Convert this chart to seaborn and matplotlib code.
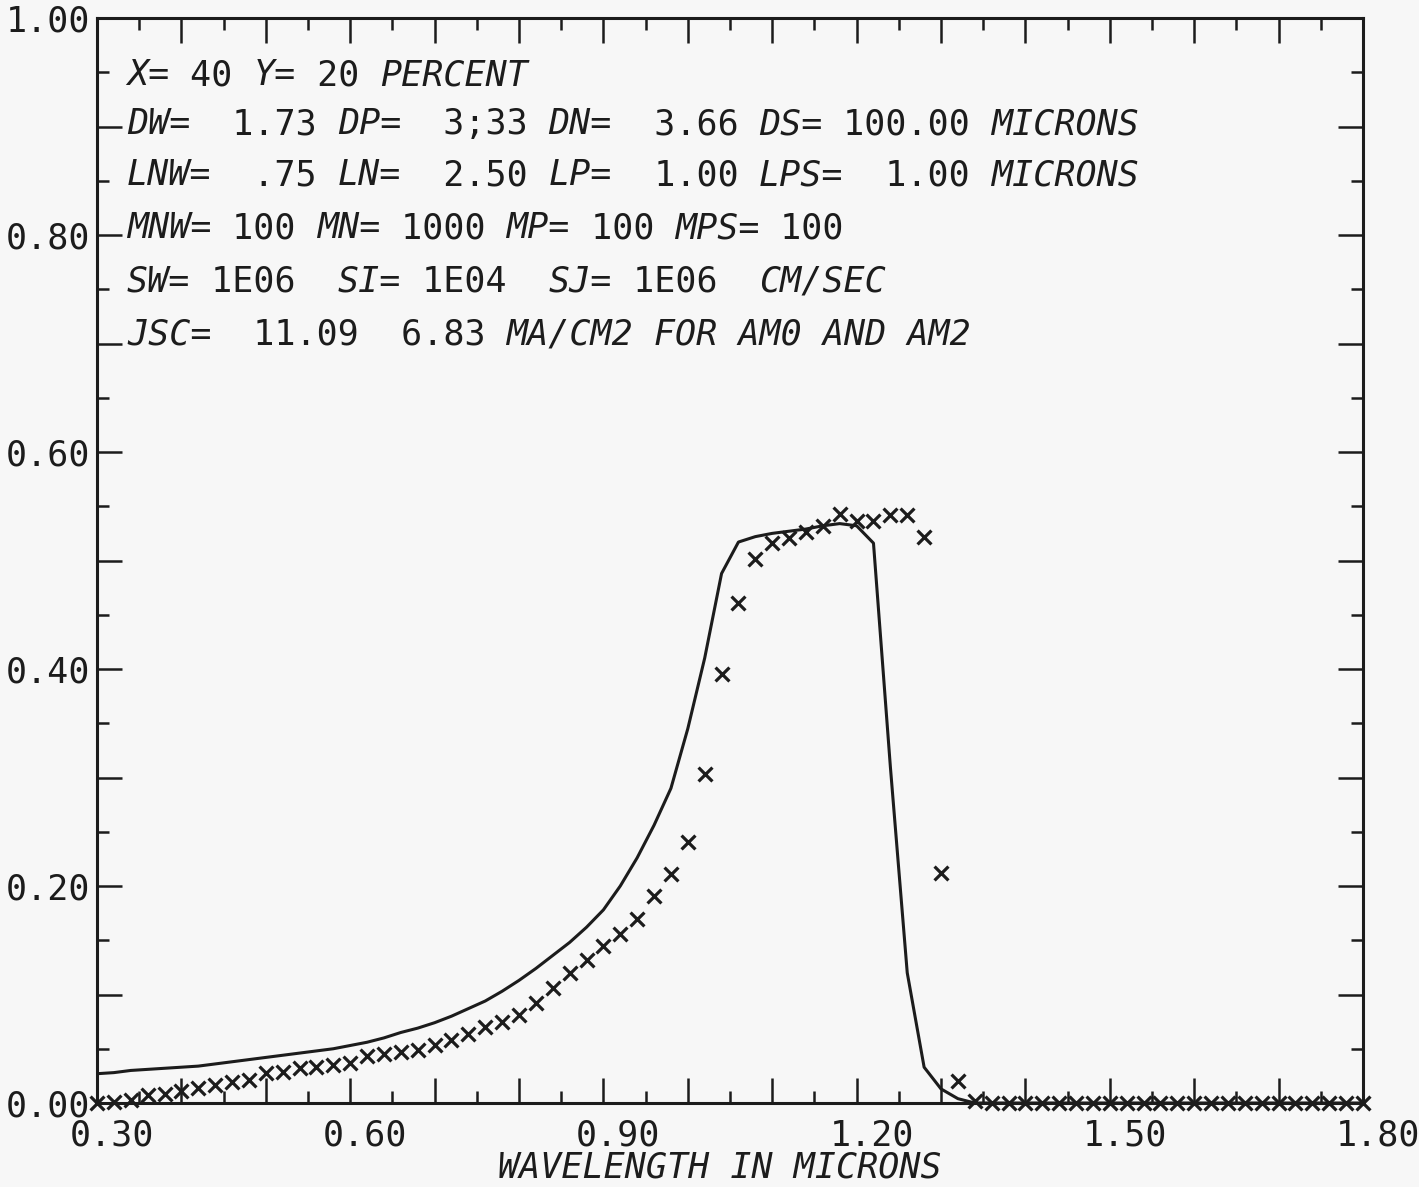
import numpy as np
import pandas as pd
import matplotlib
matplotlib.use("Agg")
import matplotlib.pyplot as plt
from matplotlib.ticker import FixedLocator, FuncFormatter
from matplotlib.transforms import ScaledTranslation
import seaborn as sns

# Wavelength grid (microns) shared by the computed curve and the measured points
wavelength = [
    0.30, 0.32, 0.34, 0.36, 0.38, 0.40, 0.42, 0.44, 0.46, 0.48,
    0.50, 0.52, 0.54, 0.56, 0.58, 0.60, 0.62, 0.64, 0.66, 0.68,
    0.70, 0.72, 0.74, 0.76, 0.78, 0.80, 0.82, 0.84, 0.86, 0.88,
    0.90, 0.92, 0.94, 0.96, 0.98, 1.00, 1.02, 1.04, 1.06, 1.08,
    1.10, 1.12, 1.14, 1.16, 1.18, 1.20, 1.22, 1.24, 1.26, 1.28,
    1.30, 1.32, 1.34, 1.36, 1.38, 1.40, 1.42, 1.44, 1.46, 1.48,
    1.50, 1.52, 1.54, 1.56, 1.58, 1.60, 1.62, 1.64, 1.66, 1.68,
    1.70, 1.72, 1.74, 1.76, 1.78, 1.80,
]

# Computed response (solid curve)
computed = [
    0.027, 0.028, 0.030, 0.031, 0.032, 0.033, 0.034, 0.036, 0.038, 0.040,
    0.042, 0.044, 0.046, 0.048, 0.050, 0.053, 0.056, 0.060, 0.065, 0.069,
    0.074, 0.080, 0.087, 0.094, 0.103, 0.113, 0.124, 0.136, 0.148, 0.162,
    0.178, 0.200, 0.226, 0.256, 0.290, 0.345, 0.410, 0.488, 0.517, 0.522,
    0.525, 0.527, 0.529, 0.532, 0.534, 0.532, 0.516, 0.310, 0.120, 0.033,
    0.013, 0.004, 0.000, 0.000, 0.000, 0.000, 0.000, 0.000, 0.000, 0.000,
    0.000, 0.000, 0.000, 0.000, 0.000, 0.000, 0.000, 0.000, 0.000, 0.000,
    0.000, 0.000, 0.000, 0.000, 0.000, 0.000,
]

# Second response (cross markers)
measured = [
    0.000, 0.001, 0.003, 0.007, 0.008, 0.011, 0.014, 0.017, 0.019, 0.021,
    0.028, 0.029, 0.032, 0.033, 0.035, 0.037, 0.043, 0.045, 0.047, 0.049,
    0.053, 0.058, 0.064, 0.070, 0.075, 0.081, 0.092, 0.106, 0.120, 0.132,
    0.145, 0.156, 0.170, 0.191, 0.211, 0.241, 0.303, 0.395, 0.461, 0.501,
    0.516, 0.521, 0.526, 0.532, 0.543, 0.536, 0.536, 0.542, 0.542, 0.522,
    0.212, 0.020, 0.002, 0.000, 0.000, 0.000, 0.000, 0.000, 0.000, 0.000,
    0.000, 0.000, 0.000, 0.000, 0.000, 0.000, 0.000, 0.000, 0.000, 0.000,
    0.000, 0.000, 0.000, 0.000, 0.000, 0.000,
]

x_major = [0.3, 0.4, 0.5, 0.6, 0.7, 0.8, 0.9, 1.0, 1.1, 1.2, 1.3, 1.4, 1.5, 1.6, 1.7, 1.8]
y_major = [0.0, 0.1, 0.2, 0.3, 0.4, 0.5, 0.6, 0.7, 0.8, 0.9, 1.0]

# Parameter block: each line is a list of (text, italic) pieces
info_lines = [
    [("X=", True), (" 40 ", False), ("Y=", True), (" 20 ", False), ("PERCENT", True)],
    [("DW=", True), ("  1.73 ", False), ("DP=", True), ("  3;33 ", False),
     ("DN=", True), ("  3.66 ", False), ("DS=", True), (" 100.00 ", False),
     ("MICRONS", True)],
    [("LNW=", True), ("  .75 ", False), ("LN=", True), ("  2.50 ", False),
     ("LP=", True), ("  1.00 ", False), ("LPS=", True), ("  1.00 ", False),
     ("MICRONS", True)],
    [("MNW=", True), (" 100 ", False), ("MN=", True), (" 1000 ", False),
     ("MP=", True), (" 100 ", False), ("MPS=", True), (" 100", False)],
    [("SW=", True), (" 1E06  ", False), ("SI=", True), (" 1E04  ", False),
     ("SJ=", True), (" 1E06  ", False), ("CM/SEC", True)],
    [("JSC=", True), ("  11.09  6.83 ", False), ("MA/CM2 FOR AM0 AND AM2", True)],
]
info_baselines = [0.938, 0.893, 0.846, 0.797, 0.748, 0.699]

INK = "#1c1c1c"
PAPER = "#f7f7f7"
FS = 25.2

sns.set_style("ticks")
plt.rcParams["font.family"] = ["DejaVu Sans Mono", "DejaVu Sans"]
plt.rcParams["text.color"] = INK
plt.rcParams["axes.edgecolor"] = INK
plt.rcParams["xtick.color"] = INK
plt.rcParams["ytick.color"] = INK

fig = plt.figure(figsize=(14.19, 11.87), dpi=100, facecolor=PAPER)
ax = fig.add_axes([97 / 1419, 1 - 1103 / 1187, 1266 / 1419, 1085 / 1187])
ax.set_facecolor(PAPER)

df = pd.DataFrame({"wavelength": wavelength, "computed": computed, "measured": measured})

sns.lineplot(data=df, x="wavelength", y="computed", ax=ax, color=INK,
             linewidth=2.2, estimator=None, sort=False)
sns.scatterplot(data=df, x="wavelength", y="measured", ax=ax, marker="x",
                s=100, linewidth=2.3, color=INK, clip_on=False, zorder=3)

ax.set_xlim(0.3, 1.8)
ax.set_ylim(0.0, 1.0)

ax.xaxis.set_major_locator(FixedLocator(x_major))
ax.xaxis.set_minor_locator(FixedLocator([v + 0.05 for v in x_major[:-1]]))
ax.yaxis.set_major_locator(FixedLocator(y_major))
ax.yaxis.set_minor_locator(FixedLocator([v + 0.05 for v in y_major[:-1]]))


def x_fmt(v, pos):
    return f"{v:.2f}" if round(v * 10) % 3 == 0 else ""


def y_fmt(v, pos):
    return f"{v:.2f}" if round(v * 10) % 2 == 0 else ""


ax.xaxis.set_major_formatter(FuncFormatter(x_fmt))
ax.yaxis.set_major_formatter(FuncFormatter(y_fmt))

ax.tick_params(which="both", direction="in", top=True, right=True,
               width=1.8, labelsize=FS, colors=INK)
ax.tick_params(which="major", length=18)
ax.tick_params(which="minor", length=8.5)
ax.tick_params(axis="x", which="major", pad=11.5)
ax.tick_params(axis="y", which="major", pad=5)

for side in ["left", "right", "top", "bottom"]:
    ax.spines[side].set_linewidth(2.2)
    ax.spines[side].set_color(INK)

# Shift the x tick labels slightly to the right of their ticks
shift = ScaledTranslation(0.15, 0, fig.dpi_scale_trans)
for lbl in ax.get_xticklabels():
    lbl.set_transform(lbl.get_transform() + shift)

ax.set_ylabel("")
ax.set_xlabel("WAVELENGTH IN MICRONS", fontsize=FS, fontstyle="italic", color=INK)
ax.xaxis.set_label_coords(0.492, -0.044)
ax.xaxis.label.set_verticalalignment("top")

# Parameter text, laid out on a fixed character grid
advance = 0.60205 * FS
x_start = (127 - 97) / 1266
for pieces, yb in zip(info_lines, info_baselines):
    col = 0
    for text, italic in pieces:
        ax.annotate(text, xy=(x_start, yb), xycoords="axes fraction",
                    xytext=(col * advance, 0), textcoords="offset points",
                    fontsize=FS, fontstyle="italic" if italic else "normal",
                    va="baseline", ha="left", color=INK)
        col += len(text)

fig.savefig("out.png", dpi=100, facecolor=PAPER)
